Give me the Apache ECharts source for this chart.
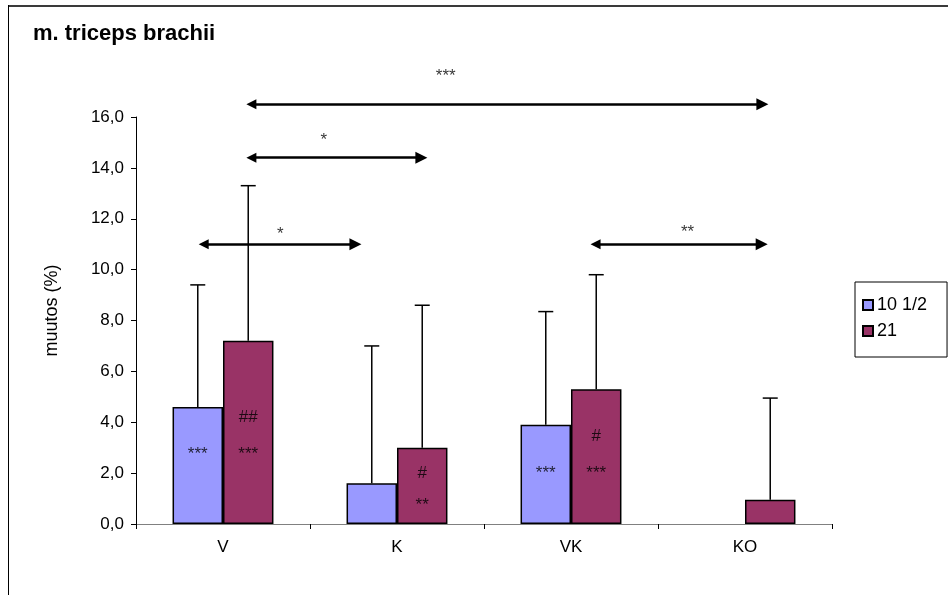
<!DOCTYPE html>
<html>
<head>
<meta charset="utf-8">
<script src="https://cdn.jsdelivr.net/npm/echarts@6/dist/echarts.min.js"></script>
<style>html,body{margin:0;padding:0;background:#fff;}#c{width:948px;height:595px;}</style>
</head>
<body>
<div id="c"></div>
<script>
// ---- data ----
const categories = ['V', 'K', 'VK', 'KO'];
const seriesNames = ['10 1/2', '21'];
const meanA = [4.6, 1.6, 3.9, null];
const meanB = [7.2, 3.0, 5.3, 0.95];
const sdA = [4.8, 5.4, 4.45, null];
const sdB = [6.1, 5.6, 4.5, 4.0];
const yMin = 0, yMax = 16, yStep = 2;

// significance brackets (x in category units 0..4, y in data units)
const bracketX1 = [0.663, 0.663, 0.389, 2.641];
const bracketX2 = [3.60, 1.64, 1.261, 3.596];
const bracketY = [16.5, 14.4, 11.0, 11.0];
const bracketText = ['***', '*', '*', '**'];
const bracketTextX = [1.78, 1.08, 0.83, 3.17];
const bracketTextY = [17.6, 15.1, 11.4, 11.45];

// labels inside bars
const innerCat = [0, 0, 0, 1, 1, 2, 2, 2];
const innerSer = [0, 1, 1, 1, 1, 0, 1, 1];
const innerY = [2.75, 4.2, 2.75, 2.0, 0.75, 2.0, 3.46, 2.0];
const innerText = ['***', '##', '***', '#', '**', '***', '#', '***'];

// ---- layout/style ----
const FONT = 'Liberation Sans, Arial, sans-serif';
const gapFrac = 0.42;
const barOffset = (1 - gapFrac) / 4; // bar centre offset in category units

const chart = echarts.init(document.getElementById('c'));

function errSeries(name, means, sds, sign) {
  return {
    type: 'custom',
    name: name + ' err',
    xAxisIndex: 0, yAxisIndex: 0,
    z: 5,
    data: means.map((m, i) => (m == null ? null : [i, m, sds[i]])).filter(d => d),
    renderItem: function (params, api) {
      const i = api.value(0), m = api.value(1), s = api.value(2);
      const band = api.size([1, 0])[0];
      const base = api.coord([i, m]);
      const top = api.coord([i, m + s]);
      const x = base[0] + sign * band * barOffset;
      const cap = 7.5;
      return {
        type: 'group',
        children: [
          { type: 'line', shape: { x1: x, y1: base[1], x2: x, y2: top[1] }, style: { stroke: '#000', lineWidth: 1.5 } },
          { type: 'line', shape: { x1: x - cap, y1: top[1], x2: x + cap, y2: top[1] }, style: { stroke: '#000', lineWidth: 1.5 } }
        ]
      };
    }
  };
}

const option = {
  animation: false,
  backgroundColor: '#fff',
  title: {
    text: 'm. triceps brachii',
    left: 33, top: 23, padding: 0,
    textStyle: { fontFamily: FONT, fontWeight: 'bold', fontSize: 22, color: '#000' }
  },
  legend: {
    data: seriesNames,
    orient: 'vertical',
    left: 855, top: 282,
    padding: [14, 20, 17, 7],
    itemGap: 8,
    itemWidth: 10, itemHeight: 10,
    icon: 'rect',
    borderColor: '#000', borderWidth: 1,
    textStyle: { fontFamily: FONT, fontSize: 18, color: '#000', padding: [0, 0, 0, -1] }
  },
  grid: { left: 136, right: 116, top: 117, bottom: 71 },
  xAxis: [
    {
      type: 'category', data: categories,
      axisLine: { lineStyle: { color: '#808080', width: 1 } },
      axisTick: { show: true, length: 5, lineStyle: { color: '#000' } },
      axisLabel: { fontFamily: FONT, fontSize: 17, color: '#000', margin: 15 }
    },
    { type: 'value', min: 0, max: 4, show: false }
  ],
  yAxis: {
    type: 'value', min: yMin, max: yMax, interval: yStep,
    name: 'muutos (%)', nameLocation: 'middle', nameGap: 75,
    nameTextStyle: { fontFamily: FONT, fontSize: 18, color: '#000', padding: [0, 0, 0, 20] },
    axisLine: { show: true, lineStyle: { color: '#000', width: 1 } },
    axisTick: { show: true, length: 5, lineStyle: { color: '#000' } },
    splitLine: { show: false },
    axisLabel: {
      fontFamily: FONT, fontSize: 17, color: '#000', margin: 12,
      formatter: v => v.toFixed(1).replace('.', ',')
    }
  },
  series: [
    {
      type: 'bar', name: seriesNames[0], data: meanA,
      barGap: '0%', barCategoryGap: (gapFrac * 100) + '%',
      itemStyle: { color: '#9999FF', borderColor: '#000', borderWidth: 1.5 }
    },
    {
      type: 'bar', name: seriesNames[1], data: meanB,
      barGap: '0%', barCategoryGap: (gapFrac * 100) + '%',
      itemStyle: { color: '#993366', borderColor: '#000', borderWidth: 1.5 }
    },
    errSeries(seriesNames[0], meanA, sdA, -1),
    errSeries(seriesNames[1], meanB, sdB, 1),
    {
      type: 'lines', coordinateSystem: 'cartesian2d', xAxisIndex: 1, yAxisIndex: 0,
      clip: false, z: 6,
      symbol: ['triangle', 'triangle'], symbolSize: [10, 12],
      lineStyle: { color: '#000', width: 2.5, opacity: 1 },
      data: bracketY.map((y, i) => ({ coords: [[bracketX1[i], y], [bracketX2[i], y]] }))
    },
    {
      type: 'scatter', xAxisIndex: 1, yAxisIndex: 0, clip: false, z: 7,
      symbolSize: 0, silent: true,
      label: { show: true, position: 'inside', formatter: p => p.data.t, fontFamily: FONT, fontSize: 17, color: '#000' },
      data: bracketText.map((t, i) => ({ value: [bracketTextX[i], bracketTextY[i]], t: t }))
    },
    {
      type: 'scatter', xAxisIndex: 1, yAxisIndex: 0, clip: false, z: 7,
      symbolSize: 0, silent: true,
      label: { show: true, position: 'inside', formatter: p => p.data.t, fontFamily: FONT, fontSize: 17, color: '#000' },
      data: innerText.map((t, i) => ({
        value: [innerCat[i] + 0.5 + (innerSer[i] ? 1 : -1) * barOffset, innerY[i]], t: t
      }))
    }
  ],
  graphic: [
    { type: 'line', shape: { x1: 8, y1: 6, x2: 948, y2: 6 }, style: { stroke: '#3a3a3a', lineWidth: 2 } },
    { type: 'line', shape: { x1: 8.5, y1: 5, x2: 8.5, y2: 595 }, style: { stroke: '#000', lineWidth: 1 } }
  ]
};
chart.setOption(option);
</script>
</body>
</html>
